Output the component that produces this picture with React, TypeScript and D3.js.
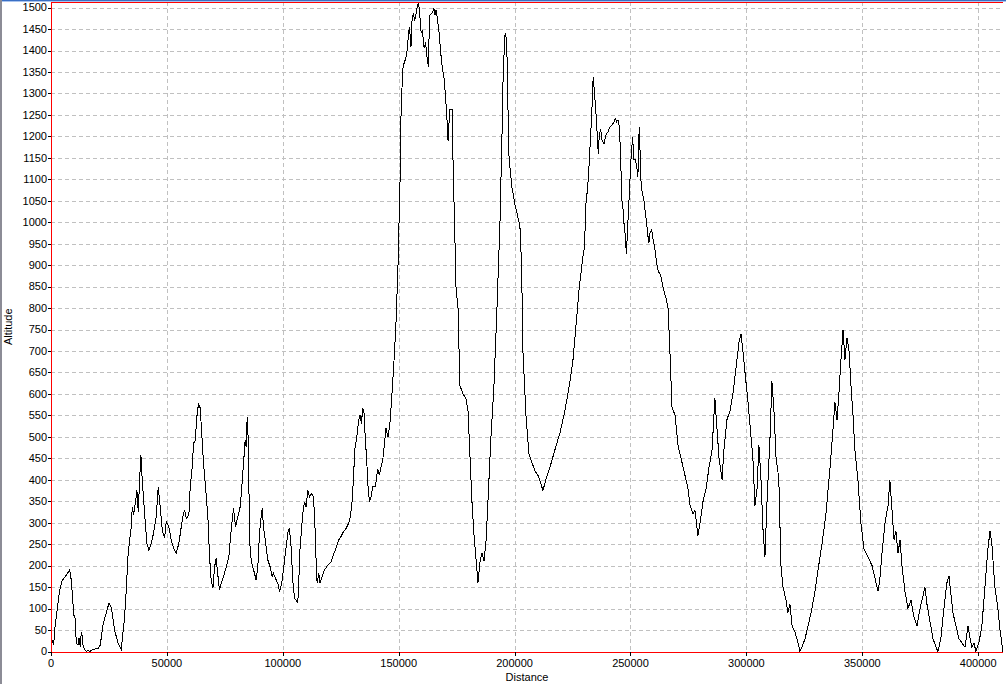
import React from "react";
import * as d3 from "d3";

const distance: number[] = [
  0, 140, 570, 1150, 1580, 2300, 3020, 3740, 4890, 6610, 8050, 8760, 9480, 9770, 10340, 10920,
  11640, 12070, 12640, 13070, 13510, 13790, 14510, 15230, 15950, 16670, 18100, 20260, 21260,
  22410, 23850, 25000, 26010, 27440, 28880, 30320, 31030, 31750, 32470, 33190, 33910, 34630,
  35060, 35630, 36490, 37070, 37640, 38220, 38790, 39370, 40370, 41380, 42240, 43250, 44250,
  45400, 46260, 47130, 47990, 48990, 49710, 50860, 51870, 52870, 54020, 55170, 56180, 56900,
  57620, 58330, 59480, 60060, 60920, 61500, 62210, 62930, 63650, 64370, 64940, 65810, 66670,
  67670, 68390, 69110, 69830, 70550, 71270, 71980, 72700, 73420, 74430, 75580, 76730, 77730,
  78740, 79600, 80610, 81610, 82330, 83050, 83770, 84200, 84630, 85210, 85630, 86350, 87070,
  87790, 88510, 89230, 89940, 90660, 91090, 91670, 92820, 93540, 94540, 95400, 95980, 96840,
  97850, 98560, 99570, 100430, 101440, 102160, 102870, 103590, 104310, 105030, 105750, 106470,
  106900, 107470, 108050, 108620, 109340, 110060, 110780, 111500, 112360, 113220, 113790,
  114370, 114800, 115520, 116090, 116960, 117960, 119400, 120830, 121840, 122990, 124140,
  125140, 125860, 127300, 128450, 129170, 129890, 130460, 131040, 131900, 132760, 133330,
  133910, 134480, 135060, 135630, 136210, 136640, 137360, 138080, 138790, 139940, 140950,
  141670, 143200, 144500, 145400, 146200, 147100, 148000, 148800, 149700, 150600, 151000,
  151700, 152300, 152800, 153500, 154000, 154600, 155000, 155300, 155700, 156300, 156900,
  157500, 158000, 158500, 158900, 159300, 159700, 160200, 160600, 161000, 161600, 162200,
  162800, 163200, 163500, 164100, 164700, 165200, 165700, 166100, 166600, 167100, 167500,
  167900, 168500, 169000, 169500, 170100, 170700, 171300, 171700, 172100, 173000, 173400,
  174300, 174700, 175600, 176400, 177700, 179000, 179900, 180800, 181600, 182500, 183300,
  184200, 185100, 185900, 186800, 187700, 188500, 189800, 191100, 192400, 193700, 194700,
  195100, 195900, 196600, 197000, 197600, 198900, 200200, 201500, 202300, 203000, 203600,
  204900, 206200, 207500, 208800, 210100, 211400, 212200, 213500, 215300, 217400, 219600,
  221700, 223900, 225200, 226500, 227500, 227900, 228500, 229400, 229900, 230400, 230800,
  231400, 232000, 232200, 232800, 233400, 233900, 234500, 235100, 235700, 236100, 236500,
  237100, 237700, 238600, 239400, 240300, 241200, 242000, 242900, 243400, 244000, 244600,
  245200, 245800, 246200, 246600, 247200, 247800, 248200, 248600, 249000, 249500, 250100,
  250600, 250900, 251500, 252100, 252700, 253200, 253500, 253800, 254100, 254500, 255100,
  255800, 256400, 257000, 257400, 257900, 258400, 259100, 259800, 260600, 261300, 262000,
  263000, 263700, 264500, 265300, 266200, 267000, 267900, 269200, 270500, 271800, 273100,
  274800, 275700, 277000, 277800, 279100, 280000, 281300, 282600, 283900, 285200, 286400,
  287300, 288200, 289500, 290300, 291600, 292900, 294200, 295500, 296800, 297700, 298500,
  299400, 300700, 302000, 302800, 303700, 304600, 305400, 306300, 307200, 308000, 308900,
  310200, 311000, 311900, 312800, 313600, 314100, 314900, 315800, 317100, 317900, 318800,
  319700, 321000, 322300, 323100, 324000, 325300, 326600, 327900, 329600, 330900, 332600,
  334300, 336100, 337400, 338200, 339100, 339900, 340800, 341700, 342500, 343400, 344300,
  345100, 346000, 346800, 348100, 349400, 350700, 352500, 354200, 355500, 356800, 357600,
  358500, 359800, 361100, 361900, 362800, 363700, 364500, 365400, 366300, 367100, 368400,
  369700, 371000, 372300, 373600, 374900, 376200, 377000, 377900, 379200, 380500, 381800,
  382600, 383900, 385200, 386500, 387400, 388300, 389100, 390400, 391700, 393000, 394300,
  395600, 396500, 397300, 398200, 399000, 400300, 401600, 402900, 404200, 405100, 405900,
  407200, 408500, 409400, 410700,
];

const altitude: number[] = [
  5, 0, 27, 15, 50, 81, 113, 143, 166, 178, 190, 166, 113, 85, 80, 20,
  15, 31, 11, 45, 35, 15, 4, 0, 4, 0, 5, 7, 15,
  62, 90, 113, 103, 50, 20, 5, 43, 80, 143, 221, 260, 290,
  337, 318, 349, 376, 326, 399, 458, 399, 322, 252, 236, 252, 276,
  314, 384, 337, 283, 264, 302, 290, 260, 241, 229, 252, 290, 314,
  330, 310, 318, 384, 430, 485, 492, 547, 578, 567, 516, 438, 384,
  314, 221, 166, 147, 197, 217, 178, 143, 159, 174, 197, 221, 283,
  333, 290, 314, 337, 384, 438, 492, 477, 547, 477, 260, 213, 197,
  182, 166, 197, 276, 314, 333, 290, 244, 213, 197, 174, 182, 170,
  159, 139, 159, 197, 244, 276, 287, 244, 166, 124, 120, 113,
  166, 244, 283, 322, 349, 337, 376, 360, 368, 360, 306,
  213, 159, 182, 159, 174, 190, 201, 209, 225, 241, 260,
  268, 276, 287, 299, 314, 349, 399, 469, 500, 539, 551,
  531, 566, 555, 492, 446, 392, 349, 361, 384, 384, 426,
  411, 450, 520, 500, 530, 600, 680, 760, 900, 1100, 1250,
  1354, 1370, 1378, 1393, 1424, 1455, 1430, 1409, 1467, 1486, 1470,
  1486, 1502, 1513, 1494, 1470, 1440, 1448, 1424, 1405, 1420, 1385,
  1362, 1455, 1482, 1486, 1490, 1498, 1482, 1494, 1478, 1455, 1440,
  1409, 1374, 1354, 1339, 1300, 1253, 1190, 1230, 1262, 1262, 1150,
  950, 850, 800, 620, 600, 590, 560, 450, 350, 270, 220,
  160, 210, 230, 210, 260, 350, 500, 620, 800, 1000, 1238,
  1354, 1440, 1424, 1300, 1150, 1080, 1040, 1010, 990, 900, 700,
  550, 460, 440, 420, 410, 390, 375, 400, 430, 470, 510,
  560, 630, 680, 760, 823, 850, 873, 919, 931, 982, 1044,
  1075, 1114, 1145, 1199, 1269, 1339, 1300, 1253, 1199, 1160, 1199,
  1218, 1191, 1183, 1203, 1211, 1222, 1226, 1234, 1242, 1234, 1238,
  1222, 1145, 1051, 1044, 997, 966, 927, 966, 1013, 1067, 1137,
  1176, 1199, 1145, 1145, 1129, 1106, 1183, 1222, 1168, 1098, 1067,
  1051, 1021, 997, 974, 951, 974, 982, 959, 935, 904, 885,
  877, 858, 838, 823, 800, 700, 570, 550, 480, 450, 420,
  380, 340, 320, 330, 270, 300, 350, 380, 430, 470, 590,
  520, 450, 400, 470, 540, 560, 600, 660, 720, 740, 700,
  650, 580, 500, 450, 340, 380, 480, 400, 280, 220, 350,
  500, 630, 560, 450, 420, 380, 200, 150, 120, 90, 110,
  60, 45, 20, 0, 10, 30, 60, 90, 140, 190, 250,
  320, 430, 520, 580, 540, 600, 680, 750, 680, 730, 700,
  620, 550, 470, 400, 300, 240, 220, 200, 170, 140, 170,
  230, 300, 340, 400, 330, 260, 280, 230, 260, 200, 140,
  100, 120, 80, 60, 100, 130, 150, 110, 70, 30, 10,
  0, 30, 100, 160, 175, 130, 90, 60, 30, 20, 10,
  60, 30, 10, 20, 0, 20, 60, 150, 240, 280, 250,
  150, 100, 50, 0,
];

const yTicks: number[] = d3.range(0, 1501, 50);
const xTicks: number[] = [0, 50000, 100000, 150000, 200000, 250000, 300000, 350000, 400000];

const W = 1006;
const H = 684;
const left = 51;
const right = 1003;
const top = 2;
const bottom = 651.5;

export default function App() {
  const x = d3.scaleLinear().domain([0, d3.max(distance) as number]).range([left, right]);
  const y = d3.scaleLinear().domain([0, d3.max(altitude) as number]).range([bottom, top]);
  const pts: [number, number][] = distance.map((d, i) => [d, altitude[i]]);
  const line = d3
    .line<[number, number]>()
    .x((d) => x(d[0]))
    .y((d) => y(d[1]));

  const font = "'Liberation Sans', Arial, sans-serif";
  return (
    <svg
      width={W}
      height={H}
      style={{ position: "fixed", left: 0, top: 0, background: "#fff" }}
      fontFamily={font}
      fontSize={11}
    >
      <rect x={0} y={0} width={W} height={H} fill="#fff" />
      {/* frame remnants */}
      <rect x={0} y={0} width={W} height={1} fill="#3a6fc4" />
      <rect x={0} y={1} width={W} height={1} fill="#a9c4ee" />
      <rect x={0} y={0} width={2} height={H} fill="#8c8c96" />

      {/* grid */}
      <g stroke="#c0c0c0" strokeDasharray="4 3" shapeRendering="crispEdges">
        {yTicks
          .filter((t) => t > 0)
          .map((t) => (
            <line key={"gy" + t} x1={left} x2={right} y1={Math.round(y(t)) + 0.5} y2={Math.round(y(t)) + 0.5} />
          ))}
        {xTicks
          .filter((t) => t > 0)
          .map((t) => (
            <line key={"gx" + t} x1={Math.round(x(t)) + 0.5} x2={Math.round(x(t)) + 0.5} y1={top} y2={bottom} />
          ))}
      </g>

      {/* profile */}
      <path d={line(pts) || ""} fill="none" stroke="#000" strokeWidth={1} shapeRendering="crispEdges" />

      {/* axes */}
      <g stroke="#ff0000" shapeRendering="crispEdges">
        <line x1={left} x2={left} y1={top} y2={bottom} />
        <line x1={left} x2={right} y1={Math.round(bottom) + 0.5} y2={Math.round(bottom) + 0.5} />
        <line x1={left} x2={right} y1={top + 0.5} y2={top + 0.5} />
      </g>

      {/* y ticks */}
      <g>
        {yTicks.map((t) => (
          <g key={"ty" + t}>
            <line x1={left - 3} x2={left} y1={Math.round(y(t)) + 0.5} y2={Math.round(y(t)) + 0.5} stroke="#000" shapeRendering="crispEdges" />
            <text x={left - 4} y={y(t)} dy="0.35em" textAnchor="end" fill="#000">
              {t}
            </text>
          </g>
        ))}
      </g>

      {/* x ticks */}
      <g>
        {xTicks.map((t) => (
          <g key={"tx" + t}>
            <line x1={Math.round(x(t)) + 0.5} x2={Math.round(x(t)) + 0.5} y1={bottom} y2={bottom + 4} stroke="#000" shapeRendering="crispEdges" />
            <text x={x(t)} y={667} textAnchor="middle" fill="#000">
              {t}
            </text>
          </g>
        ))}
      </g>

      <text x={(left + right) / 2} y={681} textAnchor="middle" fill="#000">
        Distance
      </text>
      <text transform={`translate(12,${(top + bottom) / 2}) rotate(-90)`} textAnchor="middle" fill="#000">
        Altitude
      </text>
    </svg>
  );
}
